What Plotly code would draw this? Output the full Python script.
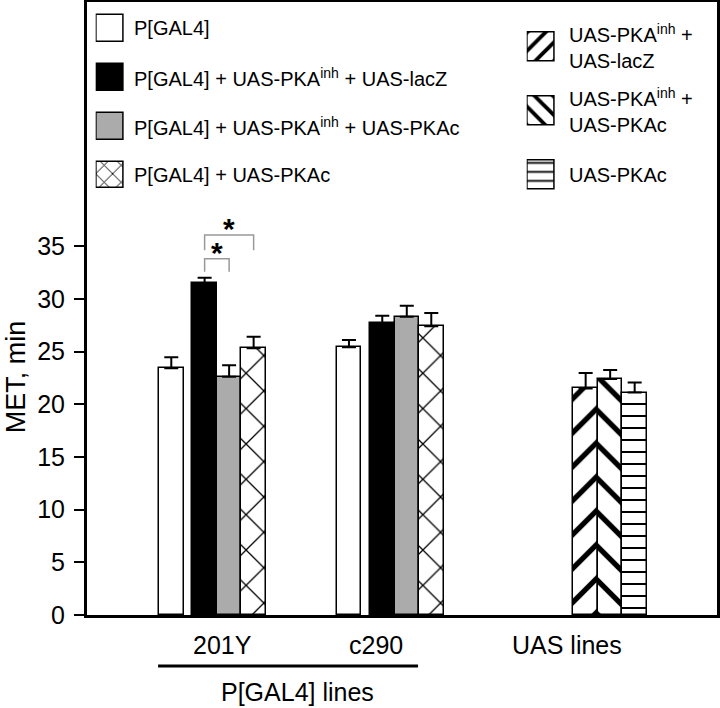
import plotly.graph_objects as go

# ---------------- data ----------------
gal4_lines = ["201Y", "c290"]
gal4_genotypes = [
    "P[GAL4]",
    "P[GAL4] + UAS-PKA<sup>inh</sup> + UAS-lacZ",
    "P[GAL4] + UAS-PKA<sup>inh</sup> + UAS-PKAc",
    "P[GAL4] + UAS-PKAc",
]
met_gal4 = [23.4, 25.4]
sem_gal4 = [1.05, 0.7]
met_gal4_inh_lacz = [31.5, 27.7]
sem_gal4_inh_lacz = [0.5, 0.7]
met_gal4_inh_pkac = [22.6, 28.3]
sem_gal4_inh_pkac = [1.1, 1.05]
met_gal4_pkac = [25.3, 27.4]
sem_gal4_pkac = [1.1, 1.25]

uas_genotypes = [
    "UAS-PKA<sup>inh</sup> +<br>UAS-lacZ",
    "UAS-PKA<sup>inh</sup> +<br>UAS-PKAc",
    "UAS-PKAc",
]
met_uas = [21.5, 22.4, 21.1]
sem_uas = [1.45, 0.85, 0.95]

group_labels = ["201Y", "c290", "UAS lines"]
supergroup_label = "P[GAL4] lines"
y_ticks = [0, 5, 10, 15, 20, 25, 30, 35]
y_title = "MET, min"
signif_mark = "*"

# ---------------- layout / style ----------------
FONT = "Liberation Sans, Arial, Helvetica, sans-serif"
group_centers = {"201Y": 5.12, "c290": 12.37, "UAS lines": 21.35}
gal4_offsets = [-1.68, -0.32, 0.68, 1.68]
uas_offsets = [-1.0, 0.0, 1.0]
label_x = {"201Y": 5.51, "c290": 11.8, "UAS lines": 19.57}
BAR_W = 1.0
GRAY = "#ababab"

gal4_series = [
    (met_gal4, sem_gal4),
    (met_gal4_inh_lacz, sem_gal4_inh_lacz),
    (met_gal4_inh_pkac, sem_gal4_inh_pkac),
    (met_gal4_pkac, sem_gal4_pkac),
]
gal4_styles = [
    dict(color="white", shape="", size=25, solidity=0.1),
    dict(color="black", shape="", size=25, solidity=0.1),
    dict(color=GRAY, shape="", size=25, solidity=0.1),
    dict(color="white", shape="x", size=25, solidity=0.1),
]
gal4_legend_sizes = [12, 12, 12, 12]
uas_styles = [
    dict(color="white", shape="/", size=24, solidity=0.22),
    dict(color="white", shape="\\", size=24, solidity=0.22),
    dict(color="white", shape="-", size=12, solidity=0.17),
]
uas_legend = [(13, 0.3), (13, 0.3), (9, 0.2)]


def marker_of(st, size=None, solidity=None):
    return dict(color=st["color"], line=dict(color="black", width=1.5),
                pattern=dict(shape=st["shape"], fgcolor="black", bgcolor=st["color"],
                             fillmode="replace", fgopacity=1,
                             size=size if size is not None else st["size"],
                             solidity=solidity if solidity is not None else st["solidity"]))


def errbar(arr):
    return dict(type="data", array=arr, arrayminus=[0] * len(arr), symmetric=False,
                color="black", thickness=2, width=7)


fig = go.Figure()

for i, (vals, sems) in enumerate(gal4_series):
    xs = [group_centers[g] + gal4_offsets[i] for g in gal4_lines]
    fig.add_trace(go.Bar(x=xs, y=vals, width=BAR_W, name=gal4_genotypes[i],
                         marker=marker_of(gal4_styles[i]), error_y=errbar(sems), showlegend=False))

for i, st in enumerate(uas_styles):
    fig.add_trace(go.Bar(x=[group_centers["UAS lines"] + uas_offsets[i]], y=[met_uas[i]], width=BAR_W,
                         name=uas_genotypes[i], marker=marker_of(st), error_y=errbar([sem_uas[i]]),
                         showlegend=False))

# ---- legend swatches (inset axes) ----
for i, st in enumerate(gal4_styles):
    fig.add_trace(go.Bar(orientation="h", x=[1], y=[i], base=0, width=0.55, xaxis="x2", yaxis="y2",
                         showlegend=False, hoverinfo="skip",
                         marker=marker_of(st, size=gal4_legend_sizes[i], solidity=0.15)))
for i, st in enumerate(uas_styles):
    fig.add_trace(go.Bar(orientation="h", x=[1], y=[i], base=0, width=0.45, xaxis="x3", yaxis="y3",
                         showlegend=False, hoverinfo="skip",
                         marker=marker_of(st, size=uas_legend[i][0], solidity=uas_legend[i][1])))

annotations = []
for i, t in enumerate(gal4_genotypes):
    annotations.append(dict(text=t, x=1.05, xref="x2", y=i, yref="y2", xanchor="left",
                            yanchor="middle", xshift=7, showarrow=False, align="left",
                            font=dict(size=20, family=FONT, color="black")))
for i, t in enumerate(uas_genotypes):
    annotations.append(dict(text=t, x=1.05, xref="x3", y=i, yref="y3", xanchor="left",
                            yanchor="middle", xshift=11, showarrow=False, align="left",
                            font=dict(size=20, family=FONT, color="black")))

# group labels under the axis
for g in group_labels:
    annotations.append(dict(text=g, x=label_x[g], xref="x", y=0, yref="paper", yanchor="middle",
                            yshift=-30, showarrow=False, font=dict(size=25, family=FONT, color="black")))
annotations.append(dict(text=supergroup_label, x=8.61, xref="x", y=0, yref="paper", yanchor="middle",
                        yshift=-77, showarrow=False, font=dict(size=25, family=FONT, color="black")))
annotations.append(dict(text=y_title, x=-0.1125, xref="paper", y=0.388, yref="paper", textangle=-90,
                        xanchor="center", yanchor="middle", showarrow=False,
                        font=dict(size=27, family=FONT, color="black")))

shapes = [dict(type="line", xref="x", yref="paper", x0=2.9, x1=13.51, y0=-0.0832, y1=-0.0832,
               line=dict(color="black", width=3))]

# significance brackets (201Y: PKAinh+lacZ vs PKAinh+PKAc and vs PKAc)
x_lacz = group_centers["201Y"] + gal4_offsets[1]
x_inhc = group_centers["201Y"] + gal4_offsets[2]
x_pkac = group_centers["201Y"] + gal4_offsets[3]
top_lacz = met_gal4_inh_lacz[0] + sem_gal4_inh_lacz[0]
brackets = [(x_lacz, x_inhc, top_lacz + 0.57, top_lacz + 1.8),
            (x_lacz, x_pkac, top_lacz + 2.6, top_lacz + 4.05)]
for xa, xb, yleg, ytop in brackets:
    shapes.append(dict(type="path", xref="x", yref="y",
                       path=f"M {xa},{yleg} L {xa},{ytop} L {xb},{ytop} L {xb},{yleg}",
                       line=dict(color="#999999", width=1.5)))
    annotations.append(dict(text="<b>" + signif_mark + "</b>", x=(xa + xb) / 2, xref="x", y=ytop,
                            yref="y", yanchor="bottom", yshift=-12, showarrow=False,
                            font=dict(size=30, family=FONT, color="black")))

fig.update_layout(
    template="none",
    width=720, height=708,
    margin=dict(l=87, r=3, t=2, b=93, autoexpand=False),
    paper_bgcolor="white", plot_bgcolor="white",
    barmode="overlay", bargap=0,
    font=dict(family=FONT, color="black"),
    xaxis=dict(range=[0, 25.71], showticklabels=False, ticks="", showgrid=False, zeroline=False,
               showline=True, linecolor="black", linewidth=3, mirror=True, automargin=False),
    yaxis=dict(range=[0, 58.16], tickvals=y_ticks, ticks="outside", ticklen=10, tickwidth=2,
               tickcolor="black", tickfont=dict(size=25, family=FONT), showgrid=False,
               zeroline=False, showline=True, linecolor="black", linewidth=3, mirror=True,
               ticklabelstandoff=4, automargin=False),
    xaxis2=dict(domain=[0.01373, 0.0609], range=[-0.05, 1.05], visible=False, anchor="y2"),
    yaxis2=dict(domain=[0.6778, 0.9967], range=[3.5, -0.5], visible=False, anchor="x2"),
    xaxis3=dict(domain=[0.6979, 0.745], range=[-0.05, 1.05], visible=False, anchor="y3"),
    yaxis3=dict(domain=[0.6653, 0.9798], range=[2.5, -0.5], visible=False, anchor="x3"),
    annotations=annotations, shapes=shapes,
)

fig.write_html("out.html", config={"displayModeBar": False},
               post_script="document.body.style.margin='0';document.body.style.overflow='hidden';")
